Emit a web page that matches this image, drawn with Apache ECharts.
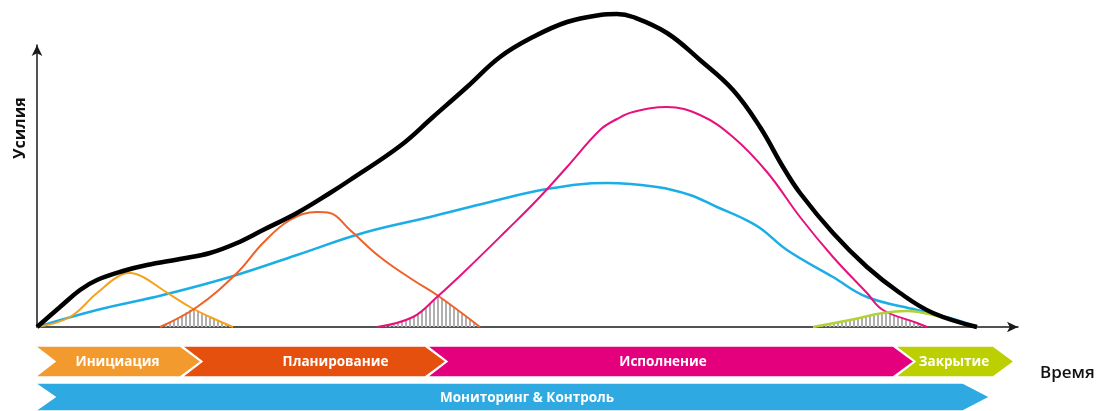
<!DOCTYPE html>
<html><head><meta charset="utf-8">
<script src="https://cdn.jsdelivr.net/npm/echarts@6/dist/echarts.min.js"></script>
<style>html,body{margin:0;padding:0;background:#fff}#c{width:1100px;height:411px}</style>
</head><body><div id="c"></div>
<script>
// ---- data (time units on x, effort units on y) ----
const total = [[0,0],[23,20],[43,37],[60,47],[86,56],[110,62],[143,68],[173,74],[200,84],[226,97],[260,114],[293,134],[313,147],[363,181],[396,210],[430,240],[463,270],[496,290],[530,305],[563,312],[580,313],[596,310],[630,294],[663,267],[696,237],[723,200],[746,160],[763,134],[796,94],[830,60],[863,34],[896,14],[940,0]];
const initiation = [[0,0],[33,10],[60,34],[86,53],[93,54],[106,50],[126,37],[153,20],[173,10],[196,0]];
const planning = [[123,0],[160,20],[200,54],[226,84],[253,107],[280,115],[293,114],[313,97],[343,70],[376,47],[400,32],[443,0]];
const monitoring = [[0,0],[60,17],[126,32],[193,50],[260,72],[326,94],[393,110],[453,125],[510,138],[570,144],[620,140],[653,132],[680,120],[703,110],[723,99],[750,77],[796,50],[830,30],[880,17],[913,9],[940,0]];
const execution = [[340,0],[376,10],[400,30],[426,54],[470,97],[500,127],[530,160],[563,197],[580,208],[596,215],[630,220],[663,212],[696,190],[730,155],[763,110],[796,70],[830,34],[846,17],[880,4],[890,0]];
const closing = [[776,0],[813,7],[846,14],[870,16],[896,12],[940,0]];
const overlap1 = [[123,0],[140,9],[156,19],[173,10],[196,0]];
const overlap2 = [[340,0],[360,3],[376,10],[390,19],[400,32],[443,0]];
const overlap3 = [[776,0],[813,7],[849,15],[865,9],[880,4],[890,0]];
const phaseNames = ['Инициация','Планирование','Исполнение','Закрытие','Мониторинг & Контроль'];
const phaseStart = [-2,145,390,858,-2];
const phaseEnd = [143,388,856,956,926];
const phaseRow = [0,0,0,0,1];

// ---- styling ----
const phaseColors = ['#F39A2E','#E6500F','#E4007D','#BCCF00','#2EA9E1'];
const labelShift = [0,22,-7,0,18];

const pc = document.createElement('canvas');
pc.width = 4; pc.height = 4;
const pctx = pc.getContext('2d');
pctx.fillStyle = '#b0b0b0';
pctx.fillRect(1,0,2,4);
const hatch = {image: pc, repeat: 'repeat'};

function hatchSeries(d){
  return {type:'line', data:d, smooth:false, symbol:'none', clip:false, z:1,
    lineStyle:{width:0}, areaStyle:{color:hatch, opacity:1}, silent:true};
}
function curve(d, color, w, z, sm){
  return {type:'line', data:d, smooth:sm==null?0.4:sm, symbol:'none', clip:false, z:z,
    lineStyle:{color:color, width:w}, silent:true};
}

const phaseData = phaseNames.map((n,i)=>[phaseStart[i], phaseEnd[i], phaseRow[i], i]);

const chart = echarts.init(document.getElementById('c'), null, {renderer:'canvas'});
chart.setOption({
  animation:false,
  grid:{left:37, top:45, width:981, height:282},
  xAxis:{type:'value', min:0, max:981, splitLine:{show:false}, axisTick:{show:false}, axisLabel:{show:false},
    axisLine:{show:true, symbol:['none','arrow'], symbolSize:[8,11], lineStyle:{color:'#1a1a1a', width:1.5}}},
  yAxis:{type:'value', min:0, max:282, splitLine:{show:false}, axisTick:{show:false}, axisLabel:{show:false},
    axisLine:{show:true, symbol:['none','arrow'], symbolSize:[8,11], lineStyle:{color:'#1a1a1a', width:1.5}}},
  graphic:[
    {type:'text', rotation:Math.PI/2, x:12, y:159, style:{text:'Усилия', font:'bold 16px "Open Sans"', fill:'#111'}},
    {type:'text', left:1040, top:365, style:{text:'Время', font:'600 17px "Open Sans"', fill:'#111'}}
  ],
  series:[
    hatchSeries(overlap1), hatchSeries(overlap2), hatchSeries(overlap3),
    curve(monitoring,'#1BAEE6',2.5,3),
    curve(initiation,'#F5A21F',2,4),
    curve(planning,'#EE6228',2,4),
    curve(execution,'#E5127E',2,4),
    curve(closing,'#B2D235',2.5,4),
    curve(total,'#000000',4.5,6),
    {type:'custom', data:phaseData, clip:false, z:10, silent:true,
      renderItem:function(params, api){
        const s = api.value(0), e = api.value(1), row = api.value(2), idx = api.value(3);
        const x0 = api.coord([s,0])[0], x1 = api.coord([e,0])[0];
        const base = api.coord([0,0])[1];
        const top = row===0 ? base+19 : base+56;
        const h = row===0 ? 31 : 28;
        const mid = top + h/2;
        const notch = 20, tip = row===0 ? 21 : 27;
        return {type:'group', children:[
          {type:'polygon', shape:{points:[[x0,top],[x1,top],[x1+tip,mid],[x1,top+h],[x0,top+h],[x0+notch,mid]]},
            style:{fill:phaseColors[idx], stroke:'#ffffff', lineWidth:1.5}},
          {type:'text', style:{text:phaseNames[idx], x:(x0+notch+x1)/2+labelShift[idx], y:mid+1,
            align:'center', verticalAlign:'middle', font:'bold 13.5px "Open Sans"', fill:'#ffffff'}}
        ]};
      }
    }
  ]
});
</script></body></html>
